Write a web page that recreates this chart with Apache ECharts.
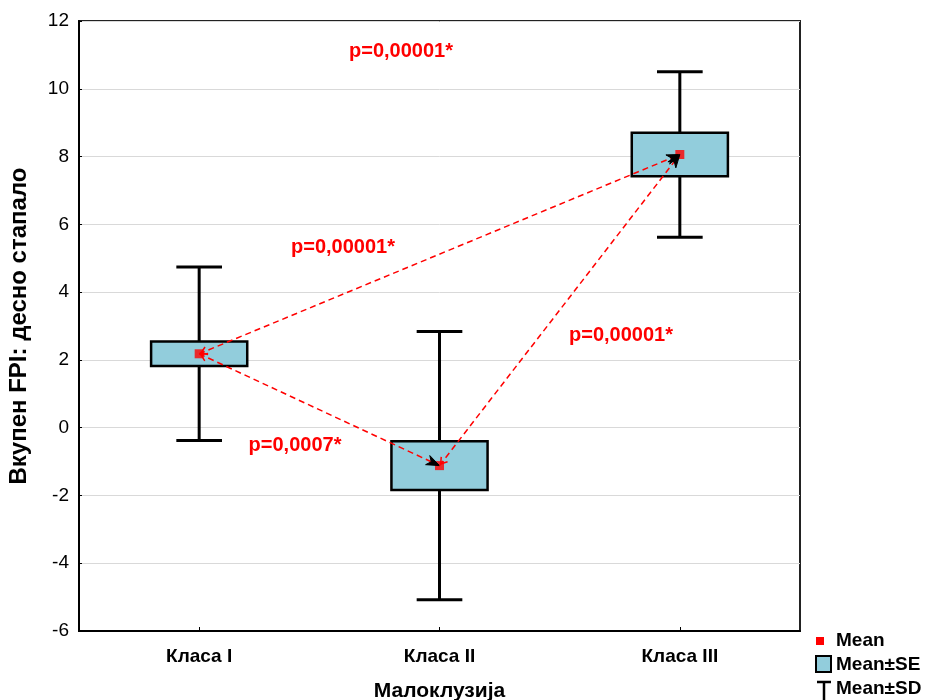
<!DOCTYPE html>
<html>
<head>
<meta charset="utf-8">
<script src="https://cdn.jsdelivr.net/npm/echarts@6/dist/echarts.min.js"></script>
<style>
  html, body { margin: 0; padding: 0; background: #fff; }
  #chart { width: 926px; height: 700px; }
</style>
</head>
<body>
<div id="chart"></div>
<script>
// Total FPI (right foot) by malocclusion class: mean, standard error, standard deviation
const categories = ['Класа I', 'Класа II', 'Класа III'];
const meanValues = [2.18, -1.12, 8.06];
const seValues = [0.36, 0.72, 0.64];
const sdValues = [2.56, 3.96, 2.44];

// Pairwise comparisons (from class index, to class index) and their p-values
const comparisons = [[0, 1], [0, 2], [1, 2]];
const comparisonLabels = ['p=0,0007*', 'p=0,00001*', 'p=0,00001*'];
const overallLabel = 'p=0,00001*';

const yTicks = { min: -6, max: 12, interval: 2 };

const FONT = 'Liberation Sans, Arial, sans-serif';
const BOX_FILL = '#92CDDC';
const RED = '#FF0000';

const boxData = categories.map((c, i) => [
  i,
  meanValues[i] - sdValues[i],
  meanValues[i] - seValues[i],
  meanValues[i],
  meanValues[i] + seValues[i],
  meanValues[i] + sdValues[i]
]);
const meanData = categories.map((c, i) => [i, meanValues[i]]);
const pairData = comparisons.map(p => [p[0], meanValues[p[0]], p[1], meanValues[p[1]]]);

function renderBox(params, api) {
  const x = api.value(0);
  const sdLo = api.coord([x, api.value(1)]);
  const seLo = api.coord([x, api.value(2)]);
  const seHi = api.coord([x, api.value(4)]);
  const sdHi = api.coord([x, api.value(5)]);
  const band = api.size([1, 0])[0];
  const boxW = band * 0.40;
  const capW = band * 0.19;
  const cx = sdLo[0];
  const lineStyle = { stroke: '#000', lineWidth: 3, fill: null };
  return {
    type: 'group',
    children: [
      { type: 'line', shape: { x1: cx, y1: sdHi[1], x2: cx, y2: sdLo[1] }, style: lineStyle },
      { type: 'line', shape: { x1: cx - capW / 2, y1: sdHi[1], x2: cx + capW / 2, y2: sdHi[1] }, style: lineStyle },
      { type: 'line', shape: { x1: cx - capW / 2, y1: sdLo[1], x2: cx + capW / 2, y2: sdLo[1] }, style: lineStyle },
      {
        type: 'rect',
        shape: { x: cx - boxW / 2, y: seHi[1], width: boxW, height: seLo[1] - seHi[1] },
        style: { fill: BOX_FILL, stroke: '#000', lineWidth: 2.5 }
      }
    ]
  };
}

function renderPair(params, api) {
  const a = api.coord([api.value(0), api.value(1)]);
  const b = api.coord([api.value(2), api.value(3)]);
  const dx = b[0] - a[0], dy = b[1] - a[1];
  const len = Math.sqrt(dx * dx + dy * dy);
  const ux = dx / len, uy = dy / len;
  const nx = -uy, ny = ux;
  // open red chevron at the start, pointing back to the start point
  const cl = 8, cw = 4;
  const startChevron = [
    [a[0] + ux * cl + nx * cw, a[1] + uy * cl + ny * cw],
    [a[0] + ux * 2, a[1] + uy * 2],
    [a[0] + ux * cl - nx * cw, a[1] + uy * cl - ny * cw]
  ];
  // filled black arrowhead at the end
  const al = 13, aw = 5;
  const endHead = [
    [b[0], b[1]],
    [b[0] - ux * al + nx * aw, b[1] - uy * al + ny * aw],
    [b[0] - ux * al * 0.7, b[1] - uy * al * 0.7],
    [b[0] - ux * al - nx * aw, b[1] - uy * al - ny * aw]
  ];
  return {
    type: 'group',
    children: [
      {
        type: 'line',
        shape: { x1: a[0], y1: a[1], x2: b[0], y2: b[1] },
        style: { stroke: RED, lineWidth: 1.5, lineDash: [6, 4], fill: null }
      },
      { type: 'polyline', shape: { points: startChevron }, style: { stroke: RED, lineWidth: 1.5, fill: null } },
      { type: 'polygon', shape: { points: endHead }, style: { fill: '#000', stroke: '#000', lineWidth: 1 } }
    ]
  };
}

const chart = echarts.init(document.getElementById('chart'), null, { renderer: 'canvas' });

const pText = (text, x, y) => ({
  type: 'text', x: x, y: y,
  style: { text: text, fill: RED, font: 'bold 20px ' + FONT, align: 'center', verticalAlign: 'middle' }
});

chart.setOption({
  animation: false,
  backgroundColor: '#fff',
  grid: {
    left: 79, top: 21, right: 126, bottom: 69,
    outerBoundsMode: 'none',
    containLabel: false,
    show: true, borderColor: '#222', borderWidth: 2, backgroundColor: 'transparent'
  },
  xAxis: {
    type: 'category',
    data: categories,
    boundaryGap: true,
    name: 'Малоклузија',
    nameLocation: 'middle',
    nameGap: 50,
    nameTextStyle: { fontFamily: FONT, fontWeight: 'bold', fontSize: 21, color: '#000' },
    axisLine: { onZero: false, lineStyle: { color: '#000', width: 2 } },
    axisTick: { show: true, inside: true, length: 4, alignWithLabel: true, lineStyle: { color: '#000' } },
    axisLabel: { fontFamily: FONT, fontWeight: 'bold', fontSize: 19, color: '#000', margin: 16 },
    splitLine: { show: false }
  },
  yAxis: {
    type: 'value',
    min: yTicks.min,
    max: yTicks.max,
    interval: yTicks.interval,
    name: 'Вкупен FPI: десно стапало',
    nameLocation: 'middle',
    nameGap: 48,
    nameTextStyle: { fontFamily: FONT, fontWeight: 'bold', fontSize: 24, color: '#000' },
    axisLine: { show: true, onZero: false, lineStyle: { color: '#000', width: 2 } },
    axisTick: { show: true, inside: true, length: 3, lineStyle: { color: '#000' } },
    axisLabel: { fontFamily: FONT, fontSize: 19, color: '#000', margin: 10 },
    splitLine: { show: true, lineStyle: { color: '#d9d9d9', width: 1 } }
  },
  series: [
    {
      name: 'Mean±SD',
      type: 'custom',
      renderItem: renderBox,
      data: boxData,
      encode: { x: 0, y: [1, 2, 3, 4, 5] },
      z: 2
    },
    {
      name: 'Mean',
      type: 'scatter',
      data: meanData,
      symbol: 'rect',
      symbolSize: 9,
      itemStyle: { color: RED },
      z: 3
    },
    {
      name: 'comparisons',
      type: 'custom',
      renderItem: renderPair,
      data: pairData,
      encode: { x: [0, 2], y: [1, 3] },
      z: 4
    }
  ],
  graphic: [
    pText(overallLabel, 401, 51),
    pText(comparisonLabels[1], 343, 247),
    pText(comparisonLabels[2], 621, 335),
    pText(comparisonLabels[0], 295, 445),
    // key
    { type: 'rect', shape: { x: 816, y: 637, width: 8, height: 8 }, style: { fill: RED } },
    { type: 'text', x: 836, y: 641, style: { text: 'Mean', font: 'bold 19px ' + FONT, fill: '#000', verticalAlign: 'middle' } },
    { type: 'rect', shape: { x: 816, y: 656, width: 15, height: 16 }, style: { fill: BOX_FILL, stroke: '#000', lineWidth: 2 } },
    { type: 'text', x: 836, y: 665, style: { text: 'Mean±SE', font: 'bold 19px ' + FONT, fill: '#000', verticalAlign: 'middle' } },
    { type: 'polyline', shape: { points: [[817, 682], [831, 682]] }, style: { stroke: '#000', lineWidth: 2.5, fill: null } },
    { type: 'polyline', shape: { points: [[824, 682], [824, 700]] }, style: { stroke: '#000', lineWidth: 2.5, fill: null } },
    { type: 'text', x: 836, y: 689, style: { text: 'Mean±SD', font: 'bold 19px ' + FONT, fill: '#000', verticalAlign: 'middle' } }
  ]
});
</script>
</body>
</html>
